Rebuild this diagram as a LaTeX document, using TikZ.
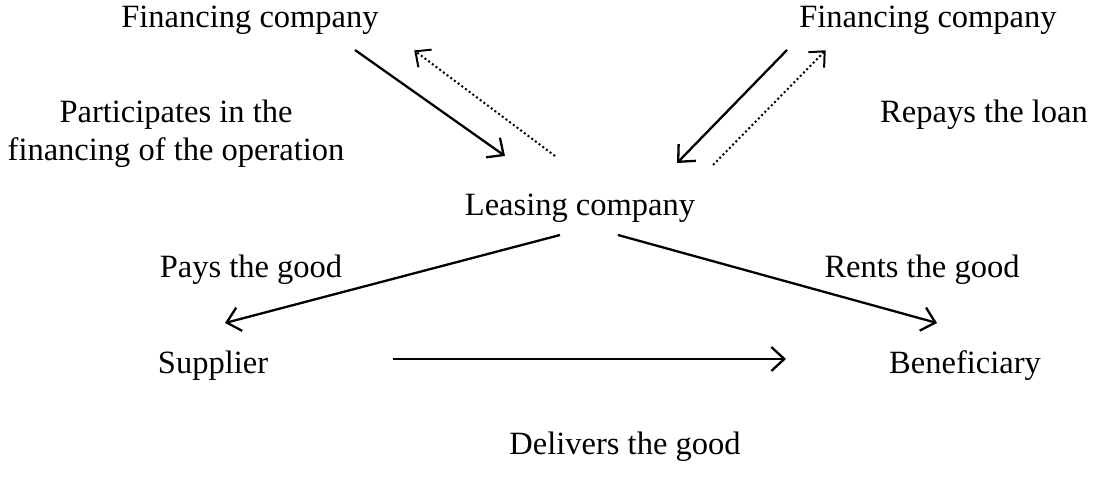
\documentclass[tikz,border=0pt]{standalone}
\usepackage{fontspec}
\setmainfont{Liberation Serif}
\usetikzlibrary{arrows.meta}
\begin{document}
\begin{tikzpicture}[x=1pt,y=-1pt,
  lbl/.style={anchor=base,inner sep=0pt,font=\fontsize{32.5}{30}\selectfont},
  solidarrow/.style={line width=2.3pt,-{Straight Barb[length=13pt,width=24pt,line width=2.3pt]}},
  dotarrow/.style={line width=2pt,dash pattern=on 2pt off 2.6pt,-{Straight Barb[length=12pt,width=22pt,line width=2pt,sep=-1pt]}}]
\useasboundingbox (0,0) rectangle (1094,484);
% labels
\node[lbl] (fin1) at (250,28) {Financing company};
\node[lbl] (fin2) at (928,28) {Financing company};
\node[lbl] (part1) at (176,123) {Participates in the};
\node[lbl] (part2) at (176,160) {financing of the operation};
\node[lbl] (repay) at (984,123) {Repays the loan};
\node[lbl] (lease) at (580,215) {Leasing company};
\node[lbl] (pays) at (251,277) {Pays the good};
\node[lbl] (rents) at (922,277) {Rents the good};
\node[lbl] (supp) at (213,373) {Supplier};
\node[lbl] (bene) at (965,373) {Beneficiary};
\node[lbl] (deliv) at (625,454) {Delivers the good};
% connector end points
\coordinate (a1s) at (355,50);  \coordinate (a1e) at (505,156);
\coordinate (d1s) at (555,156); \coordinate (d1e) at (415,51);
\coordinate (a2s) at (787,50);  \coordinate (a2e) at (677,163);
\coordinate (d2s) at (713,165); \coordinate (d2e) at (825,51);
\coordinate (ls) at (560,235);  \coordinate (le) at (225,323);
\coordinate (rs) at (618,235);  \coordinate (re) at (937,323);
\coordinate (hs) at (393,359);  \coordinate (he) at (786,359);
% connectors
\draw[solidarrow] (a1s) -- (a1e);
\draw[dotarrow] (d1s) -- (d1e);
\draw[solidarrow] (a2s) -- (a2e);
\draw[dotarrow] (d2s) -- (d2e);
\draw[solidarrow] (ls) -- (le);
\draw[solidarrow] (rs) -- (re);
\draw[solidarrow] (hs) -- (he);
\end{tikzpicture}
\end{document}
